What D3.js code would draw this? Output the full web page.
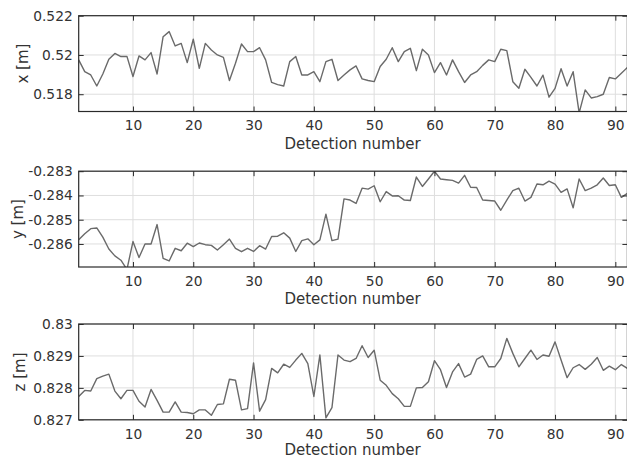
<!DOCTYPE html>
<html><head><meta charset="utf-8">
<script src="https://cdn.jsdelivr.net/npm/d3@7"></script>
<style>
html,body{margin:0;padding:0;background:#fff;}
svg{display:block;}
text{font-family:"DejaVu Sans",sans-serif;fill:#333;}
</style></head>
<body>
<svg id="chart" width="627" height="459"></svg>
<script>
const detection = d3.range(1, 93);
const xSeries = [0.51975,0.51915,0.51898,0.51842,0.51903,0.51978,0.52008,0.51992,0.51993,0.5189,
0.51995,0.51975,0.52012,0.51903,0.52093,0.52119,0.52046,0.52059,0.51961,0.5208,
0.51932,0.52059,0.52025,0.52,0.51988,0.5187,0.51958,0.52056,0.52017,0.52017,
0.52037,0.51975,0.5186,0.51849,0.51842,0.51966,0.51992,0.51898,0.51898,0.51915,
0.51864,0.51966,0.51978,0.5187,0.51898,0.51924,0.51944,0.51878,0.5187,0.51864,
0.51941,0.51978,0.52037,0.51966,0.52017,0.52034,0.5192,0.52029,0.52,0.5191,
0.51961,0.51898,0.51975,0.51915,0.5186,0.51898,0.51915,0.51947,0.51975,0.51966,
0.52029,0.52022,0.51864,0.5183,0.51927,0.51886,0.51842,0.51897,0.51785,0.5183,
0.5193,0.51842,0.51915,0.51705,0.51822,0.51781,0.51788,0.518,0.51885,0.51878,
0.51907,0.51936];
const ySeries = [-0.28583,-0.28558,-0.28537,-0.28534,-0.28572,-0.28621,-0.28649,-0.28667,-0.28705,-0.2859,
-0.28656,-0.286,-0.286,-0.2852,-0.28659,-0.2867,-0.28618,-0.28628,-0.28597,-0.28611,
-0.28596,-0.28603,-0.28606,-0.28625,-0.28603,-0.2858,-0.28618,-0.28632,-0.28618,-0.28631,
-0.28607,-0.28621,-0.28569,-0.28568,-0.28554,-0.28576,-0.28631,-0.28586,-0.28579,-0.28603,
-0.28583,-0.28477,-0.28586,-0.2858,-0.28414,-0.28419,-0.28433,-0.2837,-0.28374,-0.2836,
-0.28426,-0.28384,-0.28402,-0.28401,-0.28419,-0.28421,-0.28324,-0.28363,-0.28332,-0.283,
-0.28332,-0.28335,-0.28338,-0.28349,-0.28317,-0.28366,-0.28367,-0.28419,-0.28421,-0.28423,
-0.28461,-0.28419,-0.2838,-0.2837,-0.28423,-0.28408,-0.28353,-0.28356,-0.28341,-0.28353,
-0.28387,-0.28373,-0.28451,-0.28332,-0.2838,-0.2837,-0.28356,-0.28328,-0.28359,-0.28356,
-0.28408,-0.28391];
const zSeries = [0.82773,0.82792,0.8279,0.82829,0.82837,0.82843,0.8279,0.82766,0.82792,0.82792,
0.82758,0.8274,0.82795,0.82761,0.82724,0.82724,0.82756,0.82724,0.82723,0.82719,
0.82731,0.82731,0.82714,0.82748,0.8275,0.82827,0.82824,0.82731,0.82735,0.82878,
0.82727,0.82763,0.82861,0.82847,0.82874,0.82864,0.82887,0.82908,0.82876,0.82773,
0.82903,0.82706,0.82738,0.82903,0.82887,0.82882,0.82892,0.82932,0.82895,0.82918,
0.82824,0.82808,0.82782,0.82766,0.82742,0.82742,0.828,0.82801,0.82819,0.82885,
0.82857,0.82801,0.8285,0.82876,0.82834,0.82843,0.82889,0.829,0.82866,0.82866,
0.82892,0.82955,0.82908,0.82866,0.82892,0.82918,0.82889,0.82903,0.82899,0.82944,
0.82887,0.82832,0.82863,0.82873,0.82858,0.82874,0.82895,0.82855,0.82868,0.82857,
0.82873,0.82861];
const xTickValues = [10,20,30,40,50,60,70,80,90];
const xTickLabels = ["10","20","30","40","50","60","70","80","90"];
const panelLabels = ["x [m]","y [m]","z [m]"];
const yDomains = [[0.51712,0.522],[-0.28695,-0.283],[0.827,0.83]];
const yTickValues = [[0.518,0.52,0.522],[-0.286,-0.285,-0.284,-0.283],[0.827,0.828,0.829,0.83]];
const yTickLabels = [["0.518","0.52","0.522"],["-0.286","-0.285","-0.284","-0.283"],["0.827","0.828","0.829","0.83"]];
const xAxisTitle = "Detection number";
const series = [xSeries, ySeries, zSeries];

const svg = d3.select("#chart");
const left = 78.7, right = 627.4;
const tops = [15.7, 171.2, 324], ph = 95.8;
const ylabX = [27.5, 22.5, 24.5];
const titleOffset = [37.3, 37.3, 35.6];
const x = d3.scaleLinear().domain([1, 92]).range([left, right]);
const TL = 5;
const boxColor = "#2a2a2a";

series.forEach((data, k) => {
  const top = tops[k], bot = top + ph;
  const y = d3.scaleLinear().domain(yDomains[k]).range([bot, top]);
  const g = svg.append("g");
  const clipId = "clip" + k;
  svg.append("clipPath").attr("id", clipId).append("rect")
    .attr("x", left).attr("y", top).attr("width", right - left).attr("height", ph);
  // grid
  g.selectAll(".gx").data(xTickValues).enter().append("line")
    .attr("x1", d => x(d)).attr("x2", d => x(d)).attr("y1", top).attr("y2", bot)
    .attr("stroke", "#dedede").attr("stroke-width", 1);
  g.selectAll(".gy").data(yTickValues[k]).enter().append("line")
    .attr("x1", left).attr("x2", right).attr("y1", d => y(d)).attr("y2", d => y(d))
    .attr("stroke", "#dedede").attr("stroke-width", 1);
  // data line
  const line = d3.line().x((d, i) => x(detection[i])).y(d => y(d));
  g.append("path").datum(data).attr("d", line).attr("fill", "none")
    .attr("stroke", "#6a6a6a").attr("stroke-width", 1.4)
    .attr("stroke-linejoin", "round").attr("clip-path", `url(#${clipId})`);
  // axes via d3
  const xb = d3.axisBottom(x).tickValues(xTickValues).tickSizeInner(-TL).tickSizeOuter(0)
    .tickPadding(9).tickFormat((d, i) => xTickLabels[i]);
  const gxb = g.append("g").attr("transform", `translate(0,${bot})`).call(xb);
  const xt = d3.axisTop(x).tickValues(xTickValues).tickSizeInner(-TL).tickSizeOuter(0).tickFormat("");
  const gxt = g.append("g").attr("transform", `translate(0,${top})`).call(xt);
  const yl = d3.axisLeft(y).tickValues(yTickValues[k]).tickSizeInner(-TL).tickSizeOuter(0)
    .tickPadding(6).tickFormat((d, i) => yTickLabels[k][i]);
  const gyl = g.append("g").attr("transform", `translate(${left},0)`).call(yl);
  const yr = d3.axisRight(y).tickValues(yTickValues[k]).tickSizeInner(-TL).tickSizeOuter(0).tickFormat("");
  const gyr = g.append("g").attr("transform", `translate(${right},0)`).call(yr);
  [gxb, gxt, gyl, gyr].forEach(a => {
    a.select(".domain").remove();
    a.selectAll(".tick line").attr("stroke", boxColor).attr("stroke-width", 1);
    a.selectAll("text").attr("font-family", "DejaVu Sans").attr("font-size", 13.8).attr("fill", "#333");
  });
  // box
  g.append("rect").attr("x", left).attr("y", top).attr("width", right - left).attr("height", ph)
    .attr("fill", "none").attr("stroke", boxColor).attr("stroke-width", 1.2);
  // titles
  g.append("text").attr("x", (left + right) / 2 - 0.5).attr("y", bot + titleOffset[k])
    .attr("text-anchor", "middle").attr("font-size", 15).text(xAxisTitle);
  g.append("text").attr("transform", `translate(${ylabX[k]},${(top + bot) / 2}) rotate(-90)`)
    .attr("text-anchor", "middle").attr("font-size", 15).text(panelLabels[k]);
});
</script>
</body></html>
